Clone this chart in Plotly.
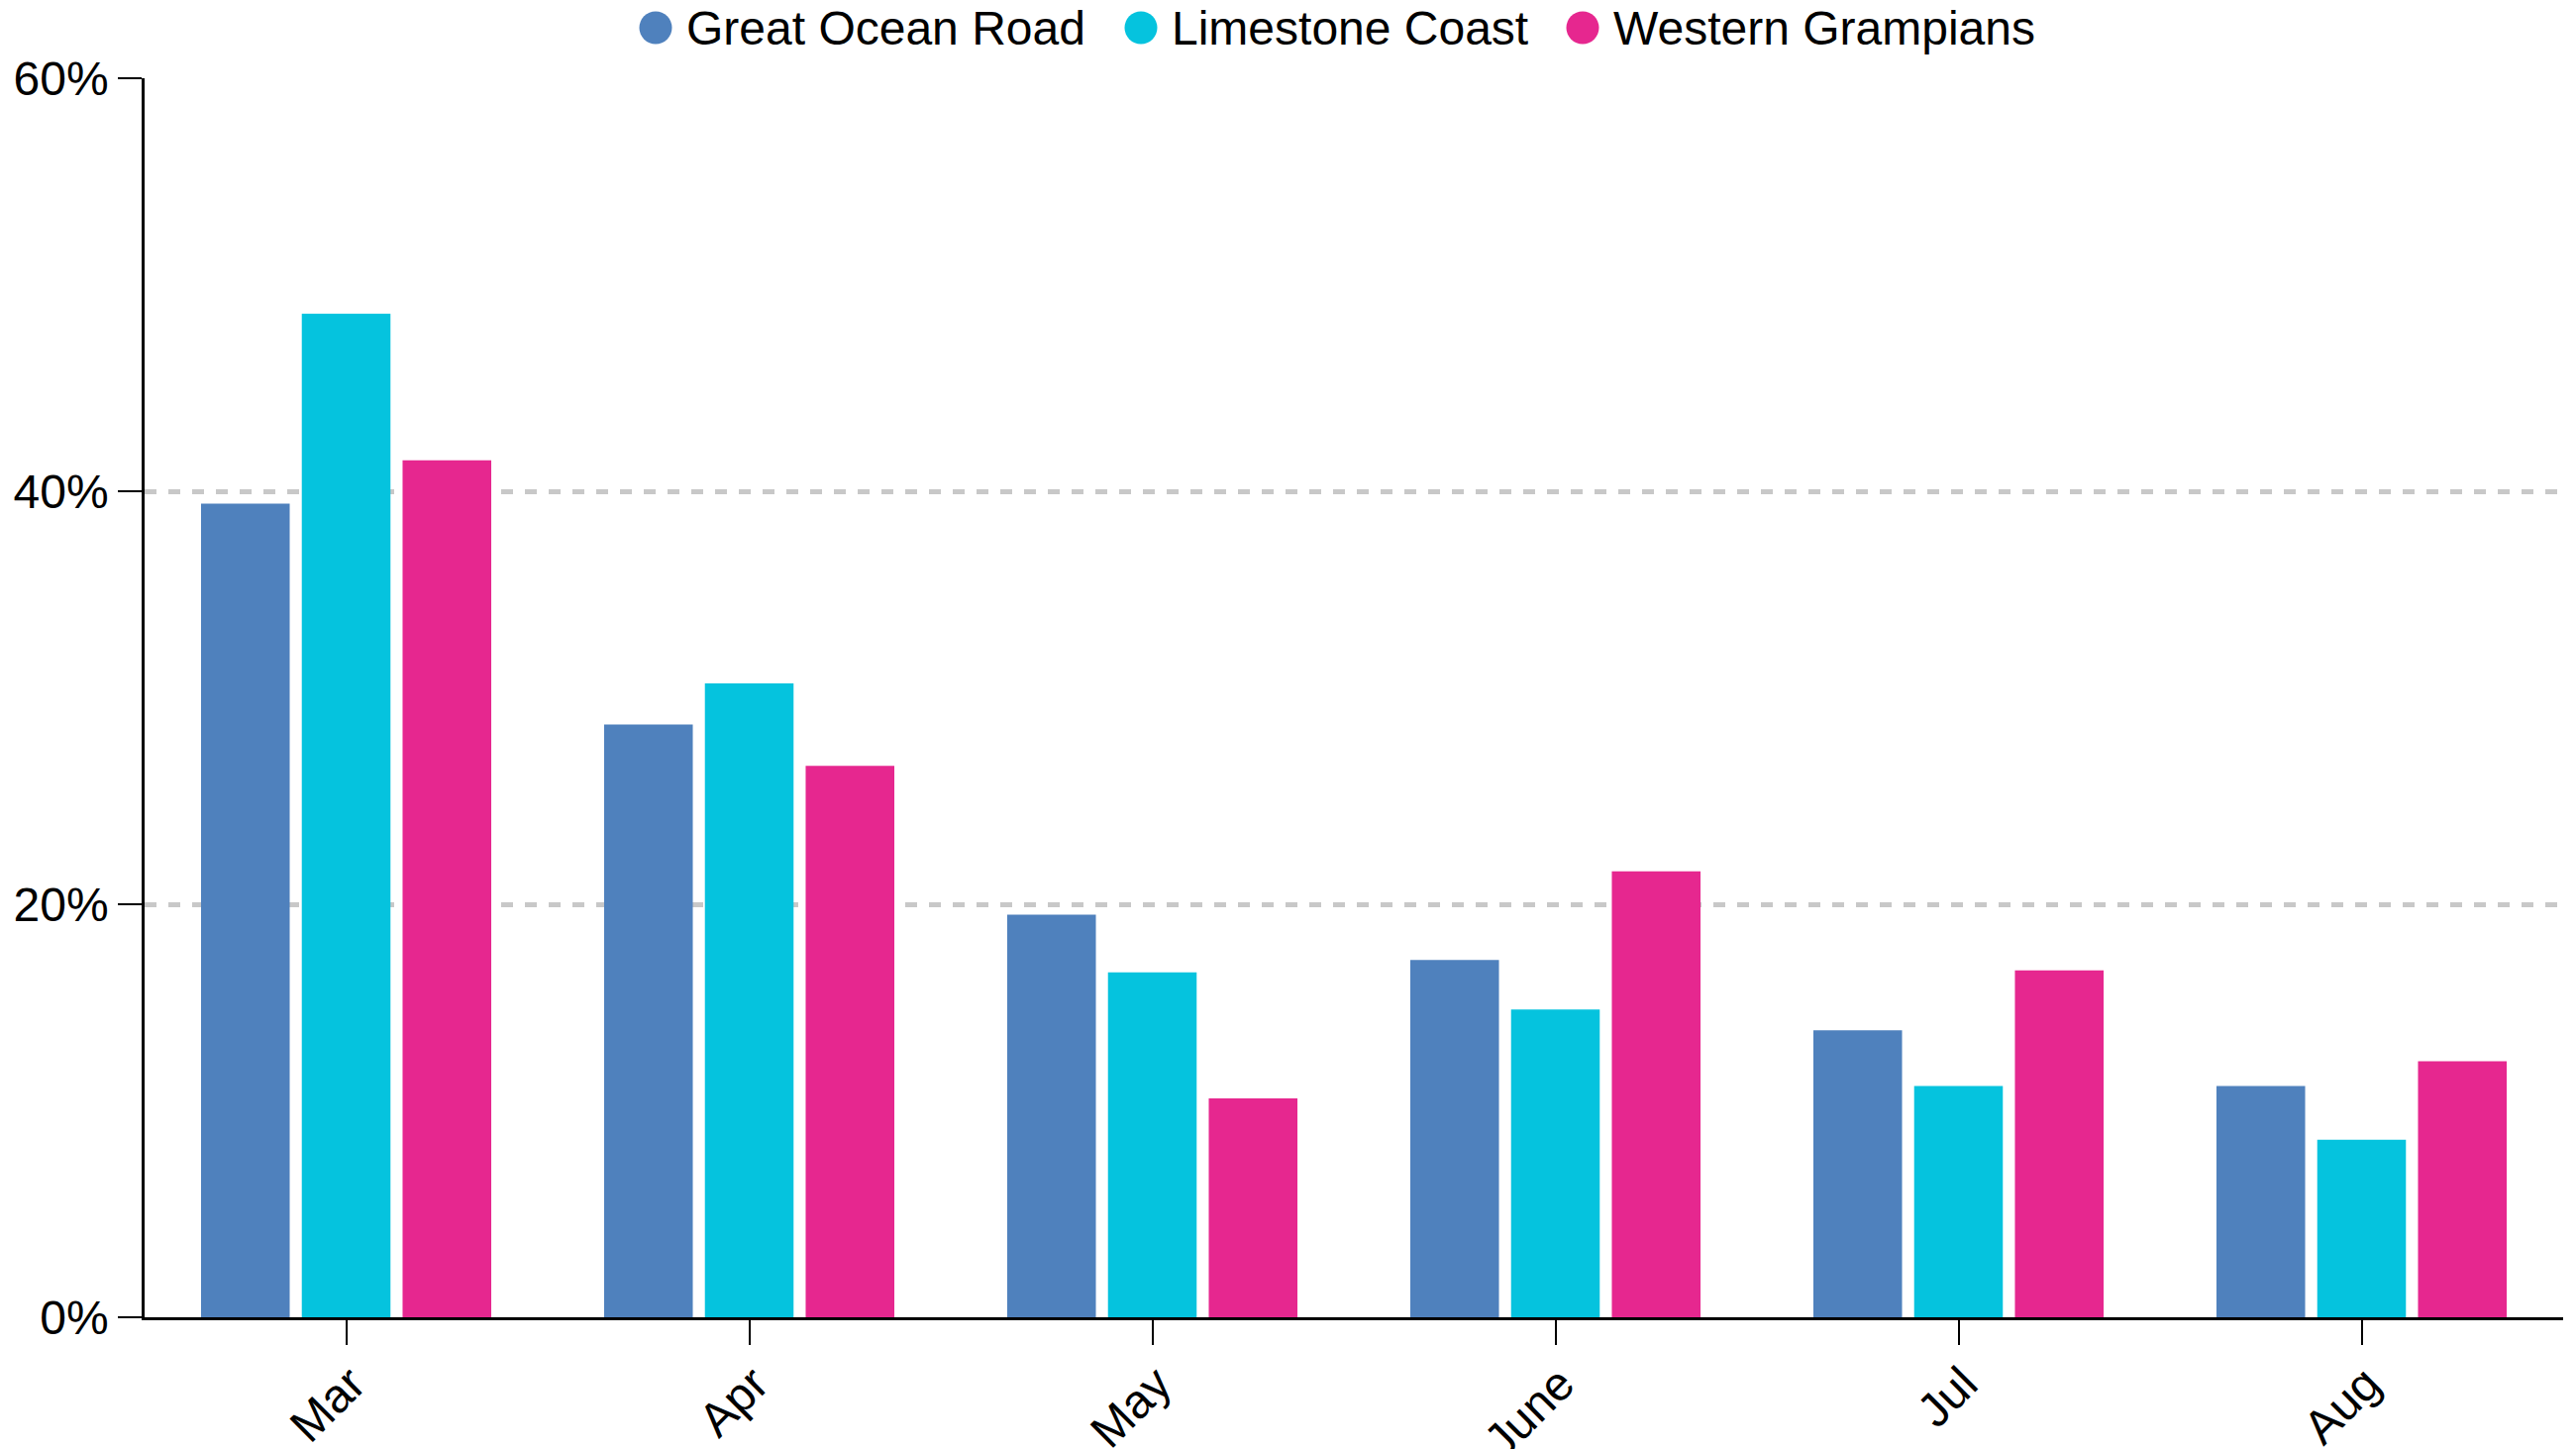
import plotly.graph_objects as go

months = ["Mar", "Apr", "May", "June", "Jul", "Aug"]
great_ocean_road = [39.4, 28.7, 19.5, 17.3, 13.9, 11.2]
limestone_coast = [48.6, 30.7, 16.7, 14.9, 11.2, 8.6]
western_grampians = [41.5, 26.7, 10.6, 21.6, 16.8, 12.4]
y_ticks = [0, 20, 40, 60]
y_tick_labels = ["0%", "20%", "40%", "60%"]

names = ["Great Ocean Road", "Limestone Coast", "Western Grampians"]
colors = ["#4F81BD", "#05C3DE", "#E6278F"]
values = [great_ocean_road, limestone_coast, western_grampians]

FONT = "Liberation Sans, Arial, sans-serif"
W, H = 2601, 1463
L, R, T, B = 146, 13, 79, 133
PW = W - L - R
PH = H - T - B

fig = go.Figure()
for name, vals, color in zip(names, values, colors):
    fig.add_trace(go.Bar(
        x=months, y=vals, name=name,
        marker=dict(color=color, line=dict(width=0)),
        showlegend=False,
    ))

# legend drawn as circles + labels above the plot (pixel positions)
legend_circle_px = [662, 1152, 1598]
legend_text_px = [691, 1181, 1627]
legend_y_px = 28
shapes = []
annotations = []
for name, color, cx, tx in zip(names, colors, legend_circle_px, legend_text_px):
    shapes.append(dict(
        type="circle", xref="paper", yref="paper",
        xsizemode="pixel", ysizemode="pixel",
        xanchor=(cx - L) / PW, yanchor=(H - B - legend_y_px) / PH,
        x0=-16.5, x1=16.5, y0=-16.5, y1=16.5,
        fillcolor=color, line=dict(width=0), layer="above",
    ))
    annotations.append(dict(
        text=name, xref="paper", yref="paper",
        x=(tx - L) / PW, y=(H - B - legend_y_px) / PH,
        xanchor="left", yanchor="middle", showarrow=False,
        font=dict(family=FONT, size=48, color="black"),
    ))

fig.update_layout(
    width=W, height=H,
    margin=dict(l=L, r=R, t=T, b=B, autoexpand=False),
    paper_bgcolor="white", plot_bgcolor="white",
    font=dict(family=FONT, size=48, color="black"),
    barmode="group", bargap=0.25, bargroupgap=0.12,
    showlegend=False,
    shapes=shapes, annotations=annotations,
    xaxis=dict(
        type="category", categoryorder="array", categoryarray=months,
        range=[-0.5, 5.5], automargin=False,
        showline=True, linecolor="black", linewidth=2.5,
        ticks="outside", ticklen=25, tickwidth=2, tickcolor="black",
        tickangle=-45, showgrid=False, tickfont=dict(size=48, family=FONT),
        ticklabelstandoff=-8, ticklabelshift=5,
    ),
    yaxis=dict(
        range=[0, 60], tickmode="array", tickvals=y_ticks, ticktext=y_tick_labels,
        automargin=False,
        showline=True, linecolor="black", linewidth=2.5,
        ticks="outside", ticklen=24, tickwidth=2, tickcolor="black",
        showgrid=True, gridcolor="#c8c8c8", gridwidth=4.5, griddash="12px,12px",
        zeroline=False, tickfont=dict(size=48, family=FONT),
    ),
)

fig.write_html("out.html", config={"displayModeBar": False},
               post_script="document.body.style.margin='0';")
